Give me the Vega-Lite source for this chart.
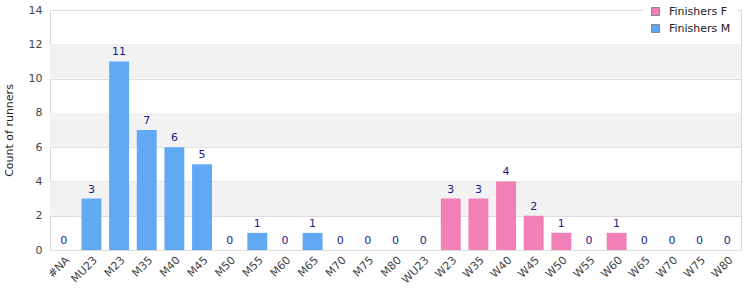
{
  "$schema": "https://vega.github.io/schema/vega-lite/v6.json",
  "width": 691,
  "height": 240,
  "autosize": {"type": "none"},
  "padding": {"left": 50, "top": 10, "right": 9, "bottom": 50},
  "config": {
    "font": "DejaVu Sans",
    "view": {"stroke": "#d9d9d9", "strokeWidth": 1},
    "axis": {"labelFont": "DejaVu Sans", "titleFont": "DejaVu Sans"},
    "axisX": {"labelAngle": -45},
    "axisBand": {"labelAngle": -45},
    "axisY": {
      "titleFontSize": 11, "titleFontWeight": "normal", "titleColor": "#222222", "titlePadding": 14,
      "labelOverlap": false, "labelFontSize": 11, "labelColor": "#444444", "ticks": false,
      "domain": false, "gridColor": "#dddddd", "labelPadding": 8, "tickCount": 7
    }
  },
  "datasets": {
    "runners": [
      {"cat": "#NA", "count": 0, "series": "Finishers M"},
      {"cat": "MU23", "count": 3, "series": "Finishers M"},
      {"cat": "M23", "count": 11, "series": "Finishers M"},
      {"cat": "M35", "count": 7, "series": "Finishers M"},
      {"cat": "M40", "count": 6, "series": "Finishers M"},
      {"cat": "M45", "count": 5, "series": "Finishers M"},
      {"cat": "M50", "count": 0, "series": "Finishers M"},
      {"cat": "M55", "count": 1, "series": "Finishers M"},
      {"cat": "M60", "count": 0, "series": "Finishers M"},
      {"cat": "M65", "count": 1, "series": "Finishers M"},
      {"cat": "M70", "count": 0, "series": "Finishers M"},
      {"cat": "M75", "count": 0, "series": "Finishers M"},
      {"cat": "M80", "count": 0, "series": "Finishers M"},
      {"cat": "WU23", "count": 0, "series": "Finishers F"},
      {"cat": "W23", "count": 3, "series": "Finishers F"},
      {"cat": "W35", "count": 3, "series": "Finishers F"},
      {"cat": "W40", "count": 4, "series": "Finishers F"},
      {"cat": "W45", "count": 2, "series": "Finishers F"},
      {"cat": "W50", "count": 1, "series": "Finishers F"},
      {"cat": "W55", "count": 0, "series": "Finishers F"},
      {"cat": "W60", "count": 1, "series": "Finishers F"},
      {"cat": "W65", "count": 0, "series": "Finishers F"},
      {"cat": "W70", "count": 0, "series": "Finishers F"},
      {"cat": "W75", "count": 0, "series": "Finishers F"},
      {"cat": "W80", "count": 0, "series": "Finishers F"}
    ],
    "bands": [
      {"lo": 2, "hi": 4},
      {"lo": 6, "hi": 8},
      {"lo": 10, "hi": 12}
    ]
  },
  "layer": [
    {
      "data": {"name": "bands"},
      "mark": {"type": "rect", "color": "#f2f2f2"},
      "encoding": {
        "y": {"field": "lo", "type": "quantitative", "scale": {"domain": [0, 14]}, "title": "Count of runners"},
        "y2": {"field": "hi"}
      }
    },
    {
      "data": {"name": "runners"},
      "encoding": {
        "x": {
          "field": "cat", "type": "nominal", "sort": null, "title": null,
          "scale": {"paddingInner": 0.28, "paddingOuter": 0.14},
          "axis": {
            "labelAngle": -45,
            "labelFontSize": 11, "labelColor": "#444444", "ticks": false, "domain": false,
            "labelPadding": 4, "labelOverlap": false, "grid": false
          }
        },
        "y": {
          "field": "count", "type": "quantitative", "title": "Count of runners",
          "scale": {"domain": [0, 14]}
        }
      },
      "layer": [
        {
          "mark": {"type": "bar"},
          "encoding": {
            "color": {
              "field": "series", "type": "nominal",
              "scale": {"domain": ["Finishers F", "Finishers M"], "range": ["#f180b8", "#61a9f3"]},
              "legend": {
                "title": null, "orient": "none", "legendX": 594, "legendY": -10,
                "symbolType": "square", "symbolSize": 64, "symbolStrokeColor": "#888888",
                "symbolStrokeWidth": 1, "labelFontSize": 11, "labelColor": "#222222",
                "fillColor": "white", "padding": 6, "rowPadding": 4, "labelOffset": 8
              }
            }
          }
        },
        {
          "mark": {"type": "text", "baseline": "bottom", "dy": -4, "fontSize": 11, "color": "#1a1a8c"},
          "encoding": {
            "text": {"field": "count", "type": "quantitative"}
          }
        }
      ]
    }
  ]
}
